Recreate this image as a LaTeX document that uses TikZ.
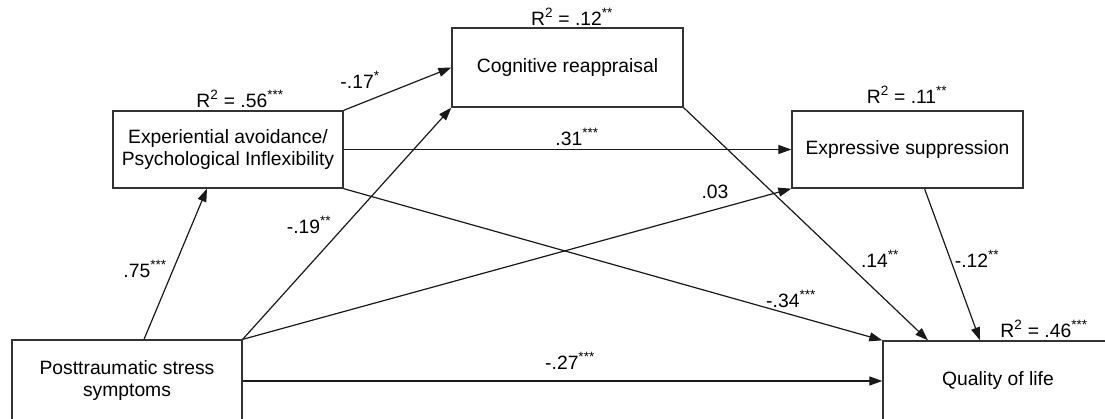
\documentclass[tikz,border=0pt]{standalone}
\usepackage{fontspec}
\setmainfont{Liberation Sans}
\usetikzlibrary{arrows.meta,calc}
\newcommand\figfont{\fontsize{19.3}{22}\selectfont}
\newcommand\sig[1]{\textsuperscript{#1}}
\begin{document}
\begin{tikzpicture}[x=1pt,y=-1pt,
  box/.style={draw=black!80, line width=1.3pt, align=center, inner sep=0pt, font=\figfont},
  lab/.style={inner sep=0pt, font=\figfont, anchor=base},
  arr/.style={line width=1.2pt, draw=black!90, -{Triangle[length=13pt,width=9pt]}}]
\useasboundingbox (0,0) rectangle (1105,418);
\clip (0,0) rectangle (1105,418);
% boxes
\node[box, minimum width=230pt, minimum height=77pt] (exp) at (228,149.5) {Experiential avoidance/\\Psychological Inflexibility};
\node[box, minimum width=231pt, minimum height=79pt] (cog) at (567.5,67.5) {Cognitive reappraisal};
\node[box, minimum width=231pt, minimum height=77pt] (sup) at (907.5,149.5) {Expressive suppression};
\node[box, minimum width=230pt, minimum height=82pt] (pts) at (127,381) {Posttraumatic stress\\symptoms};
\node[box, minimum width=230pt, minimum height=80pt] (qol) at (998,381) {Quality of life};
% R2 labels
\node[lab] (r56) at (240,107) {R\sig{2} = .56\sig{***}};
\node[lab] (r12) at (572,25) {R\sig{2} = .12\sig{**}};
\node[lab] (r11) at (907,103) {R\sig{2} = .11\sig{**}};
\node[lab] (r46) at (1044,337) {R\sig{2} = .46\sig{***}};
% connectors
\draw[arr] ([xshift=17pt]pts.north) -- ([xshift=-21pt]exp.south);
\draw[arr] (pts.north east) -- (cog.south west);
\draw[arr] (pts.north east) -- (sup.south west);
\draw[arr] (pts.east) -- (qol.west);
\draw[arr] (exp.north east) -- (cog.west);
\draw[arr] (exp.east) -- (sup.west);
\draw[arr] (exp.south east) -- (qol.north west);
\draw[arr] (cog.south east) -- ([xshift=-70pt]qol.north);
\draw[arr] ([xshift=17pt]sup.south) -- ([xshift=-18pt]qol.north);
% path coefficients
\node[lab] (c75) at (145,277) {.75\sig{***}};
\node[lab] (c17) at (360,88) {-.17\sig{*}};
\node[lab] (c19) at (309,233) {-.19\sig{**}};
\node[lab] (c31) at (577,145) {.31\sig{***}};
\node[lab] (c03) at (715,198) {.03};
\node[lab] (c34) at (791,307) {-.34\sig{***}};
\node[lab] (c27) at (570,369) {-.27\sig{***}};
\node[lab] (c14) at (880,267) {.14\sig{**}};
\node[lab] (c12) at (977,267) {-.12\sig{**}};
\end{tikzpicture}
\end{document}
